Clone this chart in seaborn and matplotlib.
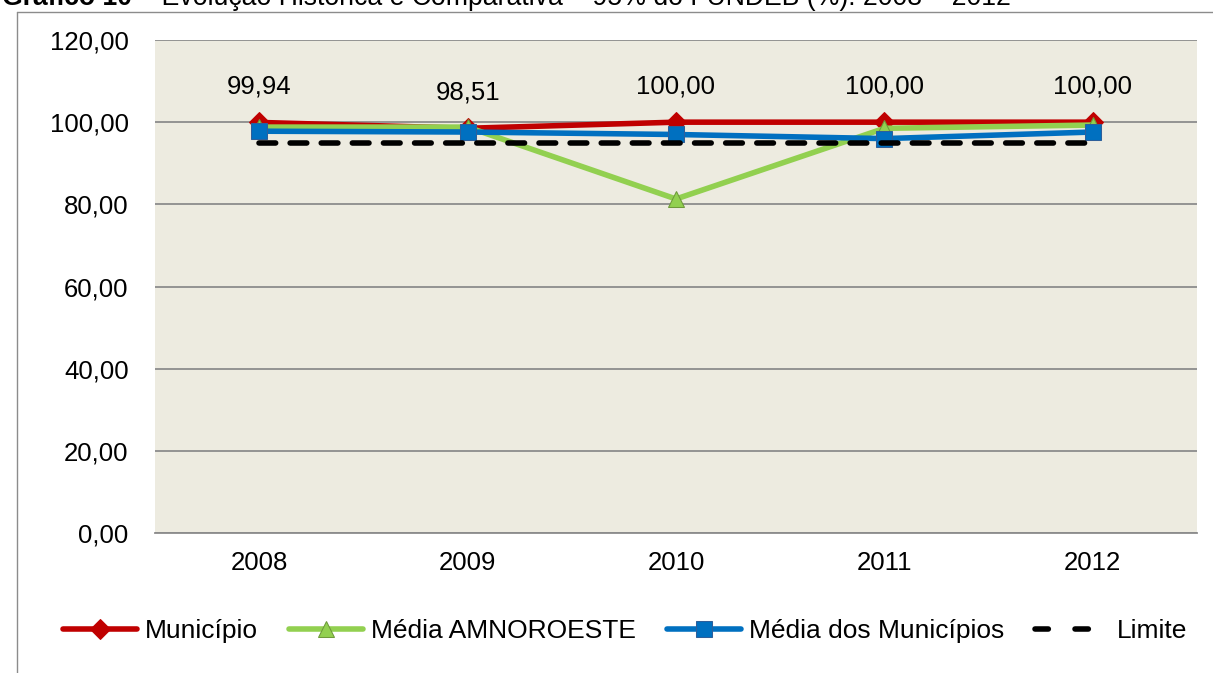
import matplotlib
matplotlib.use("Agg")
import matplotlib.pyplot as plt
import seaborn as sns
import pandas as pd
from matplotlib.lines import Line2D

years = ["2008", "2009", "2010", "2011", "2012"]
municipio = [99.94, 98.51, 100.00, 100.00, 100.00]
media_amnoroeste = [98.8, 98.8, 81.3, 98.5, 99.3]
media_municipios = [97.8, 97.6, 97.0, 96.0, 97.6]
limite = [95.0, 95.0, 95.0, 95.0, 95.0]
yticks = [0, 20, 40, 60, 80, 100, 120]
title_bold = "Gráfico 10"
title_rest = " – Evolução Histórica e Comparativa – 95% do FUNDEB (%): 2008 – 2012"

sns.set_theme(style="white")
plt.rcParams['font.family'] = ['Liberation Sans', 'DejaVu Sans']
plt.rcParams['text.color'] = 'black'
plt.rcParams['xtick.color'] = 'black'
plt.rcParams['ytick.color'] = 'black'

FS = 18.5

fig = plt.figure(figsize=(12.13, 6.73), dpi=100)
ax = fig.add_axes([155/1213, 1-533/673, (1197-155)/1213, (533-40)/673])
ax.set_facecolor("#EDEBE0")

series = [
    ("Município", municipio, dict(color="#C00000", marker="D", markersize=10, lw=4, mec="#C00000")),
    ("Média AMNOROESTE", media_amnoroeste, dict(color="#92D050", marker="^", markersize=11, lw=4, mec="#6E9A3A", mfc="#92D050")),
    ("Média dos Municípios", media_municipios, dict(color="#0070C0", marker="s", markersize=12, lw=4, mec="#2E5F9A")),
    ("Limite", limite, dict(color="black", lw=4, dashes=(3, 2.6), dash_capstyle="round")),
]
for name, vals, kw in series:
    d = pd.DataFrame({"x": range(len(years)), "y": vals})
    sns.lineplot(data=d, x="x", y="y", ax=ax, label=name, **kw)

for i, v in enumerate(municipio):
    ax.annotate(f"{v:.2f}".replace(".", ","), (i, v), xytext=(0, 17), textcoords="offset points",
                ha="center", va="bottom", fontsize=FS, color="black")

ax.set_xlim(-0.5, len(years) - 0.5)
ax.set_ylim(0, 120)
ax.set_yticks(yticks)
ax.set_yticklabels([f"{t:.2f}".replace(".", ",") for t in yticks], fontsize=FS)
ax.set_xticks(range(len(years)))
ax.set_xticklabels(years, fontsize=FS)
ax.set_xlabel("")
ax.set_ylabel("")
ax.grid(axis="y", color="#8C8C8C", lw=1.3)
ax.set_axisbelow(True)
for s in ["top", "right", "left"]:
    ax.spines[s].set_visible(False)
ax.spines["bottom"].set_color("#8C8C8C")
ax.spines["bottom"].set_linewidth(1.3)
ax.tick_params(axis="y", length=0, pad=19)
ax.tick_params(axis="x", length=0, pad=13)

leg = ax.legend(loc="center", bbox_to_anchor=((625-155)/1042, -(631-533)/493), ncol=4, frameon=False,
                fontsize=19, handlelength=2.8, handletextpad=0.3, columnspacing=1.18)
leg.get_lines()[3].set_dashes((2.4, 4.8))

# outer frame
fig.add_artist(Line2D([17/1213, 17/1213], [0, 1-12/673], transform=fig.transFigure, color="#8C8C8C", lw=1))
fig.add_artist(Line2D([17/1213, 1], [1-12/673, 1-12/673], transform=fig.transFigure, color="#8C8C8C", lw=1))

t = fig.text(2/1213, 1-5/673, title_bold, fontsize=19.2, fontweight="bold", va="baseline", ha="left")
fig.canvas.draw()
bb = t.get_window_extent()
fig.text(bb.x1/1213, 1-5/673, title_rest, fontsize=19.2, va="baseline", ha="left")

fig.savefig("out.png", dpi=100)
